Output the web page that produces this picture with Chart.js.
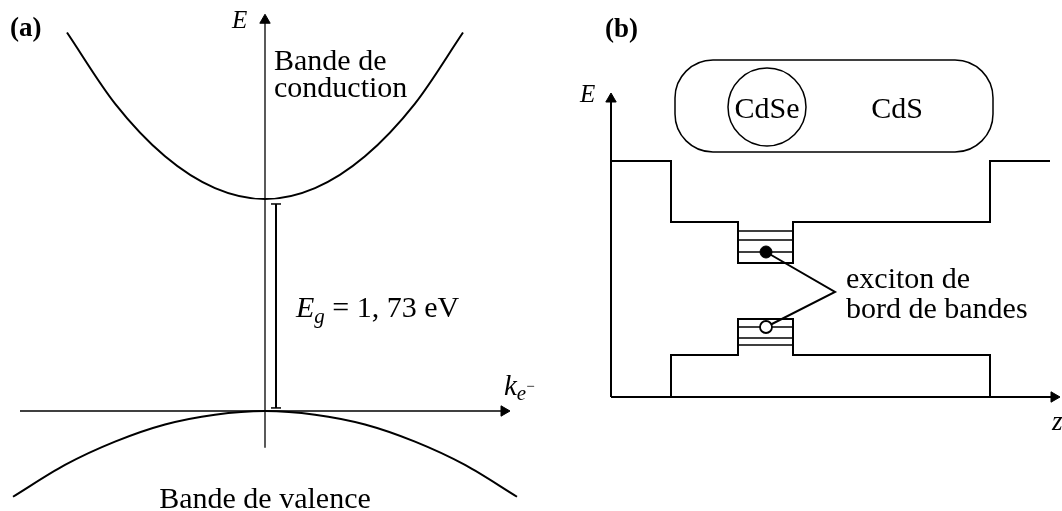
<!DOCTYPE html>
<html>
<head>
<meta charset="utf-8">
<script src="https://cdn.jsdelivr.net/npm/chart.js@4"></script>
<style>
  body { margin: 0; background: #fff; }
  #wrap { position: relative; width: 1062px; height: 511px; }
  #chartA { position: absolute; left: 0; top: 0; }
  #chartB { position: absolute; left: 540px; top: 0; }
</style>
</head>
<body>
<div id="wrap">
  <canvas id="chartA" width="540" height="511"></canvas>
  <canvas id="chartB" width="522" height="511"></canvas>
</div>
<script>
// ---- panel (a): band structure, k in arbitrary units, E in eV ----
const gapEnergy = 1.73;
const kConduction = [-3.96, -3, -2, -1, 0, 1, 2, 3, 3.96];
const eConduction = [3.09, 2.51, 2.08, 1.82, 1.73, 1.82, 2.08, 2.51, 3.09];
const kValence = [-5.04, -4, -3, -2, -1, 0, 1, 2, 3, 4, 5.04];
const eValence = [-0.70, -0.44, -0.25, -0.11, -0.03, 0, -0.03, -0.11, -0.25, -0.44, -0.70];

// ---- panel (b): CdSe/CdS rod, z and E in arbitrary units ----
const zSteps = [0, 6, 12.7, 18.2, 37.9, 43.9];
const eVacuum = 23.6;
const eCdSCond = 17.5;
const eCdSeCond = 13.4;
const eCdSVal = 4.2;
const eCdSeVal = 7.8;
const eLevelsCond = [16.6, 15.7, 14.5];
const eLevelsVal = [7.0, 5.9, 5.2];
const electron = [15.5, 14.5];
const hole = [15.5, 7.0];
const pointerTip = [22.4, 10.5];

const FONT = "'Liberation Serif', 'Times New Roman', serif";
const black = '#000';

function pts(xs, ys) { return xs.map((x, i) => ({ x, y: ys[i] })); }

function lineSet(data, width, extra) {
  return Object.assign({
    data, showLine: true, borderColor: black, borderWidth: width,
    pointRadius: 0, fill: false
  }, extra || {});
}

function arrowSet(data, width, rot) {
  return lineSet(data, width, {
    pointRadius: [0, 6], pointStyle: 'triangle', rotation: [0, rot],
    pointBackgroundColor: black, pointBorderColor: black, pointBorderWidth: 1
  });
}

function drawRuns(ctx, x, y, runs, align) {
  let total = 0;
  runs.forEach(r => { ctx.font = r[1]; total += ctx.measureText(r[0]).width; });
  let cx = align === 'center' ? x - total / 2 : x;
  runs.forEach(r => {
    ctx.font = r[1];
    ctx.fillText(r[0], cx, y + (r[2] || 0));
    cx += ctx.measureText(r[0]).width;
  });
}

const textPlugin = {
  id: 'texts',
  afterDatasetsDraw(chart) {
    const ctx = chart.ctx, sx = chart.scales.x, sy = chart.scales.y;
    const o = chart.options.plugins.texts;
    ctx.save();
    ctx.fillStyle = black;
    ctx.textBaseline = 'alphabetic';
    if (o.roundBox) {
      const b = o.roundBox;
      const x0 = sx.getPixelForValue(b[0]), x1 = sx.getPixelForValue(b[1]);
      const y0 = sy.getPixelForValue(b[3]), y1 = sy.getPixelForValue(b[2]);
      ctx.beginPath();
      ctx.roundRect(x0, y0, x1 - x0, y1 - y0, 38);
      ctx.lineWidth = 1.5;
      ctx.strokeStyle = black;
      ctx.stroke();
    }
    o.items.forEach(t => {
      drawRuns(ctx, sx.getPixelForValue(t.at[0]), sy.getPixelForValue(t.at[1]), t.runs, t.align);
    });
    ctx.restore();
  }
};

function baseOptions(xmin, xmax, ymin, ymax, texts) {
  return {
    responsive: false,
    animation: false,
    layout: { padding: 0, autoPadding: false },
    scales: {
      x: { type: 'linear', display: false, min: xmin, max: xmax },
      y: { type: 'linear', display: false, min: ymin, max: ymax }
    },
    plugins: { legend: { display: false }, tooltip: { enabled: false }, texts },
    elements: { line: { tension: 0 } }
  };
}

// panel (a)
new Chart(document.getElementById('chartA'), {
  type: 'scatter',
  plugins: [textPlugin],
  data: {
    datasets: [
      lineSet(pts(kConduction, eConduction), 2, { cubicInterpolationMode: 'monotone' }),
      lineSet(pts(kValence, eValence), 2, { cubicInterpolationMode: 'monotone' }),
      arrowSet([{ x: -4.9, y: 0 }, { x: 4.78, y: 0 }], 1.3, 90),
      arrowSet([{ x: 0, y: -0.30 }, { x: 0, y: 3.19 }], 1.3, 0),
      lineSet([{ x: 0.22, y: gapEnergy - 0.04 }, { x: 0.22, y: 0.025 }], 2, {
        pointRadius: 5, pointStyle: 'line', pointBorderColor: black, pointBorderWidth: 1.5
      })
    ]
  },
  options: baseOptions(-5.3, 5.5, -0.8163, 3.3551, {
    items: [
      { at: [-5.1, 3.06], runs: [['(a)', 'bold 27px ' + FONT]] },
      { at: [-0.66, 3.13], runs: [['E', 'italic 25px ' + FONT]] },
      { at: [0.18, 2.784], runs: [['Bande de', '30px ' + FONT]] },
      { at: [0.18, 2.563], runs: [['conduction', '30px ' + FONT]] },
      { at: [0.62, 0.767], runs: [['E', 'italic 30px ' + FONT], ['g', 'italic 21px ' + FONT, 6], [' = 1, 73 eV', '30px ' + FONT]] },
      { at: [4.78, 0.13], runs: [['k', 'italic 29px ' + FONT], ['e', 'italic 21px ' + FONT, 5], ['\u2212', '15px ' + FONT, -4]] },
      { at: [0, -0.792], align: 'center', runs: [['Bande de valence', '30px ' + FONT]] }
    ]
  })
});

// panel (b)
const condProfile = pts(
  [zSteps[0], zSteps[1], zSteps[1], zSteps[2], zSteps[2], zSteps[3], zSteps[3], zSteps[4], zSteps[4], zSteps[5]],
  [eVacuum, eVacuum, eCdSCond, eCdSCond, eCdSeCond, eCdSeCond, eCdSCond, eCdSCond, eVacuum, eVacuum]
);
const valProfile = pts(
  [zSteps[1], zSteps[1], zSteps[2], zSteps[2], zSteps[3], zSteps[3], zSteps[4], zSteps[4]],
  [0, eCdSVal, eCdSVal, eCdSeVal, eCdSeVal, eCdSVal, eCdSVal, 0]
);
const levelSegs = [];
eLevelsCond.concat(eLevelsVal).forEach(e => {
  levelSegs.push({ x: zSteps[2], y: e }, { x: zSteps[3], y: e }, { x: NaN, y: NaN });
});

// first dataset is drawn on top
new Chart(document.getElementById('chartB'), {
  type: 'scatter',
  plugins: [textPlugin],
  data: {
    datasets: [
      { data: [{ x: electron[0], y: electron[1] }], pointRadius: 6, pointBackgroundColor: black, pointBorderColor: black, pointBorderWidth: 1 },
      { data: [{ x: hole[0], y: hole[1] }], pointRadius: 6, pointBackgroundColor: '#fff', pointBorderColor: black, pointBorderWidth: 1.8 },
      { data: [{ x: 15.6, y: 29.0 }], pointRadius: 39, pointBackgroundColor: 'rgba(0,0,0,0)', pointBorderColor: black, pointBorderWidth: 1.5 },
      lineSet(pts([electron[0], pointerTip[0], hole[0]], [electron[1], pointerTip[1], hole[1]]), 2),
      arrowSet([{ x: 0, y: 0 }, { x: 44.3, y: 0 }], 2, 90),
      arrowSet([{ x: 0, y: 0 }, { x: 0, y: 29.8 }], 2, 0),
      lineSet(condProfile, 2),
      lineSet(valProfile, 2),
      lineSet(levelSegs, 1.5, { spanGaps: false })
    ]
  },
  options: baseOptions(-7.1, 45.1, -11.4, 39.7, {
    roundBox: [6.4, 38.2, 24.5, 33.7],
    items: [
      { at: [-0.6, 36], runs: [['(b)', 'bold 27px ' + FONT]] },
      { at: [-3.1, 29.5], runs: [['E', 'italic 25px ' + FONT]] },
      { at: [44.1, -3.3], runs: [['z', 'italic 27px ' + FONT]] },
      { at: [15.6, 27.9], align: 'center', runs: [['CdSe', '30px ' + FONT]] },
      { at: [28.6, 27.9], align: 'center', runs: [['CdS', '30px ' + FONT]] },
      { at: [23.5, 10.9], runs: [['exciton de', '30px ' + FONT]] },
      { at: [23.5, 7.9], runs: [['bord de bandes', '30px ' + FONT]] }
    ]
  })
});
</script>
</body>
</html>
